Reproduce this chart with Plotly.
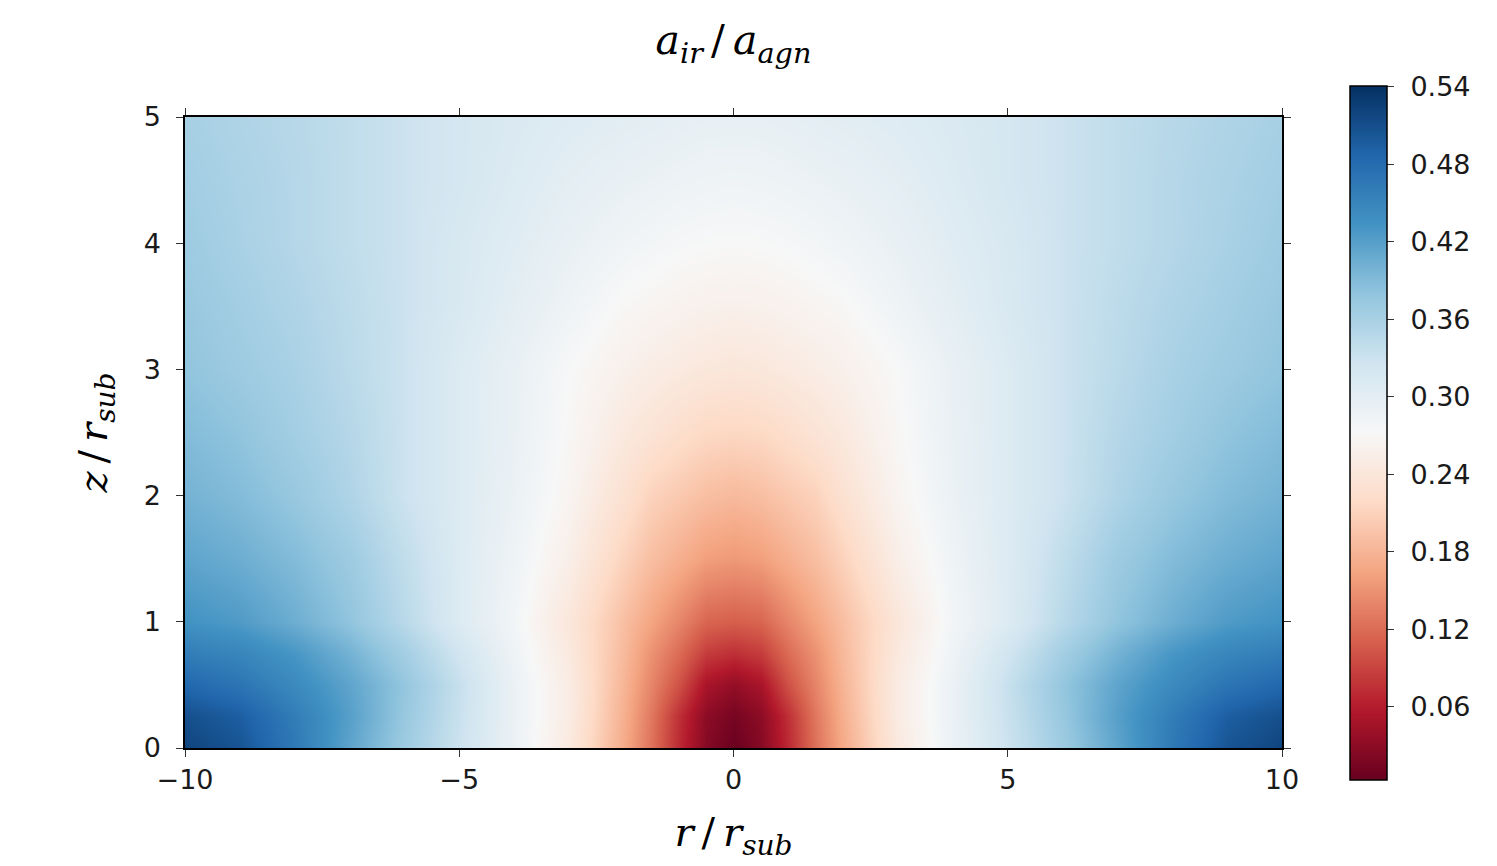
import plotly.graph_objects as go

# Radial coordinate r/r_sub (cell centres) and height z/r_sub
r_vals = [-10, -9, -8, -7, -6, -5, -4, -3, -2, -1.5, -1, -0.5, 0,
          0.5, 1, 1.5, 2, 3, 4, 5, 6, 7, 8, 9, 10]
z_vals = [0, 0.25, 0.5, 0.75, 1, 1.5, 2, 2.5, 3, 3.5, 4, 4.5, 5]

# a_ir / a_agn, one list per z row (r from -10 to 10)
row_z0_00 = [0.52, 0.505, 0.465, 0.415, 0.37, 0.33, 0.29, 0.245, 0.17, 0.125, 0.07, 0.025, 0.005, 0.025, 0.07, 0.125, 0.17, 0.245, 0.29, 0.33, 0.37, 0.415, 0.465, 0.505, 0.52]
row_z0_25 = [0.51, 0.495, 0.46, 0.42, 0.375, 0.333, 0.29, 0.25, 0.175, 0.13, 0.075, 0.03, 0.015, 0.03, 0.075, 0.13, 0.175, 0.25, 0.29, 0.333, 0.375, 0.42, 0.46, 0.495, 0.51]
row_z0_50 = [0.485, 0.47, 0.445, 0.415, 0.378, 0.335, 0.29, 0.25, 0.18, 0.14, 0.10, 0.05, 0.035, 0.05, 0.10, 0.14, 0.18, 0.25, 0.29, 0.335, 0.378, 0.415, 0.445, 0.47, 0.485]
row_z0_75 = [0.46, 0.45, 0.43, 0.40, 0.365, 0.325, 0.285, 0.245, 0.185, 0.15, 0.12, 0.085, 0.075, 0.085, 0.12, 0.15, 0.185, 0.245, 0.285, 0.325, 0.365, 0.40, 0.43, 0.45, 0.46]
row_z1_00 = [0.435, 0.425, 0.405, 0.38, 0.347, 0.31, 0.28, 0.24, 0.19, 0.165, 0.14, 0.115, 0.11, 0.115, 0.14, 0.165, 0.19, 0.24, 0.28, 0.31, 0.347, 0.38, 0.405, 0.425, 0.435]
row_z1_50 = [0.415, 0.405, 0.39, 0.37, 0.34, 0.31, 0.285, 0.255, 0.21, 0.19, 0.175, 0.16, 0.155, 0.16, 0.175, 0.19, 0.21, 0.255, 0.285, 0.31, 0.34, 0.37, 0.39, 0.405, 0.415]
row_z2_00 = [0.40, 0.39, 0.375, 0.355, 0.33, 0.31, 0.29, 0.265, 0.23, 0.21, 0.2, 0.19, 0.185, 0.19, 0.2, 0.21, 0.23, 0.265, 0.29, 0.31, 0.33, 0.355, 0.375, 0.39, 0.40]
row_z2_50 = [0.39, 0.38, 0.365, 0.35, 0.33, 0.31, 0.292, 0.27, 0.245, 0.235, 0.225, 0.217, 0.215, 0.217, 0.225, 0.235, 0.245, 0.27, 0.292, 0.31, 0.33, 0.35, 0.365, 0.38, 0.39]
row_z3_00 = [0.38, 0.37, 0.36, 0.345, 0.33, 0.31, 0.293, 0.273, 0.258, 0.252, 0.247, 0.242, 0.24, 0.242, 0.247, 0.252, 0.258, 0.273, 0.293, 0.31, 0.33, 0.345, 0.36, 0.37, 0.38]
row_z3_50 = [0.375, 0.365, 0.355, 0.343, 0.33, 0.315, 0.30, 0.285, 0.27, 0.266, 0.262, 0.259, 0.258, 0.259, 0.262, 0.266, 0.27, 0.285, 0.30, 0.315, 0.33, 0.343, 0.355, 0.365, 0.375]
row_z4_00 = [0.37, 0.36, 0.35, 0.34, 0.33, 0.316, 0.305, 0.293, 0.283, 0.279, 0.275, 0.273, 0.272, 0.273, 0.275, 0.279, 0.283, 0.293, 0.305, 0.316, 0.33, 0.34, 0.35, 0.36, 0.37]
row_z4_50 = [0.366, 0.358, 0.35, 0.34, 0.33, 0.32, 0.31, 0.30, 0.293, 0.29, 0.287, 0.285, 0.284, 0.285, 0.287, 0.29, 0.293, 0.30, 0.31, 0.32, 0.33, 0.34, 0.35, 0.358, 0.366]
row_z5_00 = [0.362, 0.355, 0.348, 0.34, 0.33, 0.32, 0.313, 0.307, 0.302, 0.3, 0.297, 0.295, 0.295, 0.295, 0.297, 0.3, 0.302, 0.307, 0.313, 0.32, 0.33, 0.34, 0.348, 0.355, 0.362]

z_grid = [row_z0_00, row_z0_25, row_z0_50, row_z0_75, row_z1_00, row_z1_50,
          row_z2_00, row_z2_50, row_z3_00, row_z3_50, row_z4_00, row_z4_50, row_z5_00]

x_ticks = [-10, -5, 0, 5, 10]
x_ticktext = ["\u221210", "\u22125", "0", "5", "10"]
y_ticks = [0, 1, 2, 3, 4, 5]
cbar_ticks = [0.06, 0.12, 0.18, 0.24, 0.30, 0.36, 0.42, 0.48, 0.54]
cbar_ticktext = ["\u2009\u20090.06", "\u2009\u20090.12", "\u2009\u20090.18",
                 "\u2009\u20090.24", "\u2009\u20090.30", "\u2009\u20090.36",
                 "\u2009\u20090.42", "\u2009\u20090.48", "\u2009\u20090.54"]

rdbu = ["rgb(103,0,31)", "rgb(178,24,43)", "rgb(214,96,77)", "rgb(244,165,130)",
        "rgb(253,219,199)", "rgb(247,247,247)", "rgb(209,229,240)", "rgb(146,197,222)",
        "rgb(67,147,195)", "rgb(33,102,172)", "rgb(5,48,97)"]
colorscale = [[i / 10, c] for i, c in enumerate(rdbu)]

TICK_FONT = dict(family="DejaVu Sans", size=27, color="#1a1a1a")
MATH_FONT = "DejaVu Serif"

FIG_W, FIG_H = 1489, 858

fig = go.Figure(go.Heatmap(
    x=r_vals, y=z_vals, z=z_grid,
    zsmooth="best",
    colorscale=colorscale,
    zmin=0.0035, zmax=0.541,
    colorbar=dict(
        x=1.062, xanchor="left", xref="paper", xpad=0,
        y=0.5, yanchor="middle", ypad=0,
        len=694, lenmode="pixels",
        thickness=37, thicknessmode="pixels",
        outlinewidth=1.5, outlinecolor="black",
        ticks="outside", ticklen=7, tickwidth=1, tickcolor="#333",
        tickvals=cbar_ticks, ticktext=cbar_ticktext,
        tickfont=TICK_FONT,
    ),
))

fig.update_layout(
    width=FIG_W, height=FIG_H, autosize=False,
    margin=dict(l=177, r=215, t=109, b=118),
    paper_bgcolor="white", plot_bgcolor="white",
    title=dict(
        text="<i>a<sub>ir</sub></i>\u2009/\u2009<i>a<sub>agn</sub></i>",
        x=0.5, xref="paper", xanchor="center",
        y=1 - 32 / FIG_H, yref="container", yanchor="middle",
        font=dict(family=MATH_FONT, size=41, color="black"),
    ),
    xaxis=dict(
        range=[-10, 10], tickvals=x_ticks, ticktext=x_ticktext,
        ticks="outside", ticklen=7, tickwidth=1, tickcolor="#333",
        showline=True, linecolor="black", linewidth=1.5, mirror="ticks",
        showgrid=False, zeroline=False, tickfont=TICK_FONT,
        title=dict(text="<i>r</i>\u2009/\u2009<i>r<sub>sub</sub></i>", standoff=24,
                   font=dict(family=MATH_FONT, size=40, color="black")),
    ),
    yaxis=dict(
        range=[0, 5], tickvals=y_ticks,
        ticks="outside", ticklen=7, tickwidth=1, tickcolor="#333",
        ticklabelstandoff=10,
        showline=True, linecolor="black", linewidth=1.5, mirror="ticks",
        showgrid=False, zeroline=False, tickfont=TICK_FONT,
        title=dict(text="<i>z</i>\u2009/\u2009<i>r<sub>sub</sub></i>", standoff=24,
                   font=dict(family=MATH_FONT, size=40, color="black")),
    ),
)

fig.write_html("out.html")
